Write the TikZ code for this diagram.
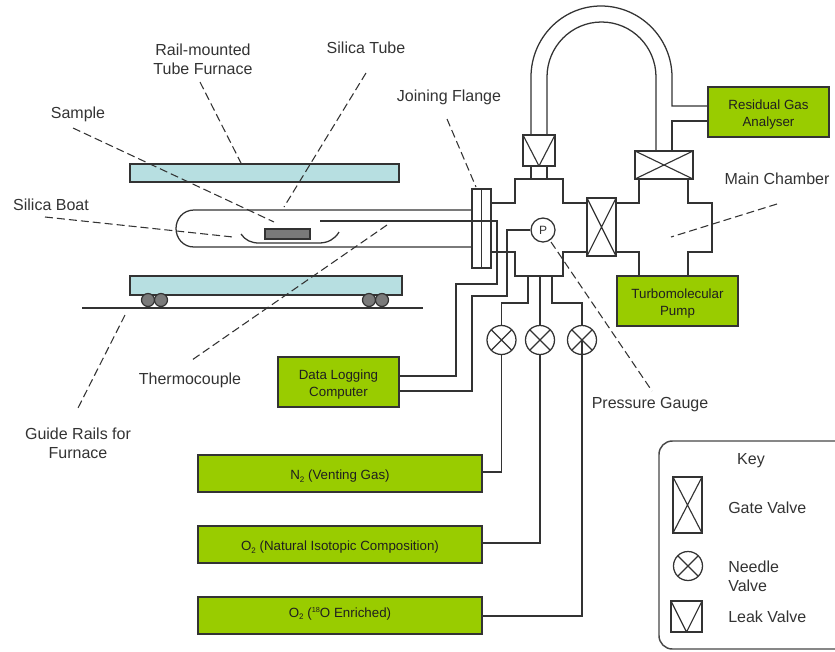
\documentclass[tikz,border=0pt]{standalone}
\usepackage{fontspec}
\setmainfont{Liberation Sans}
\def\u{0.75pt}
\newcommand{\subtwo}{\raisebox{-2pt}{\fontsize{6}{6}\selectfont 2}}
\newcommand{\supeighteen}{\raisebox{3.5pt}{\fontsize{5.5}{6}\selectfont 18}}
\definecolor{boxgreen}{HTML}{99CC00}
\definecolor{furn}{HTML}{B7DFE1}
\definecolor{ln}{HTML}{333333}
\definecolor{lab}{HTML}{333333}
\tikzset{
  pipe/.style={draw=ln,line width=0.95pt,line join=miter},
  leader/.style={draw=ln,line width=0.8pt,dash pattern=on 6pt off 3pt},
  boxtext/.style={inner sep=0pt,align=center,text=black!88,font=\fontsize{10}{12.75}\selectfont},
  greenbox/.style={draw=ln,line width=1.1pt,fill=boxgreen,inner sep=0pt},
  boxt/.style 2 args={label={[boxtext,yshift=#2*\u]center:#1}},
  furnace/.style={draw=ln,line width=1.1pt,fill=furn,inner sep=0pt},
  lbl/.style={text=lab,align=center,inner sep=0pt,font=\fontsize{12}{14.5}\selectfont},
  keylbl/.style={lbl,align=left,anchor=west},
  sized/.style 2 args={minimum width=#1*\u,minimum height=#2*\u},
  gatev/.style={draw=ln,line width=0.95pt,inner sep=0pt,
     path picture={\draw[ln,line width=0.85pt] (path picture bounding box.north west)--(path picture bounding box.south east)
       (path picture bounding box.north east)--(path picture bounding box.south west);}},
  leakv/.style={draw=ln,line width=0.95pt,inner sep=0pt,
     path picture={\draw[ln,line width=0.85pt] (path picture bounding box.north west)--(path picture bounding box.south)--(path picture bounding box.north east);}},
  needlev/.style={circle,draw=ln,line width=0.95pt,inner sep=0pt,minimum size=29*\u,
     path picture={\draw[ln,line width=0.85pt] (path picture bounding box.north west)--(path picture bounding box.south east)
        (path picture bounding box.north east)--(path picture bounding box.south west);}},
  roller/.style={circle,draw=ln,line width=0.9pt,fill=black!52,inner sep=0pt,minimum size=13*\u},
}
\begin{document}
\begin{tikzpicture}[x=0.75pt,y=-0.75pt]
\useasboundingbox (0,0) rectangle (835,651);
\clip (0,0) rectangle (835,651);
% furnace
\node[furnace,sized={269}{18}] (furnTop) at (264.5,173) {};
\node[furnace,sized={272}{19}] (furnBot) at (266,285.5) {};
\node[roller] (r1) at (148,300) {};
\node[roller] (r2) at (161,300) {};
\node[roller] (r3) at (369,300) {};
\node[roller] (r4) at (382,300) {};
\coordinate (railL) at (82,308);
\coordinate (railR) at (423,308);
\draw[pipe,line width=1.2pt] (railL)--(railR);
% flange
\node[draw=ln,line width=0.95pt,inner sep=0pt,sized={19}{79}] (flange) at (481.5,228.5) {};
\draw[pipe] (flange.north)--(flange.south);
% tube
\coordinate (tubeT) at (flange.west|-0,210);
\coordinate (tubeB) at (flange.west|-0,247);
\draw[pipe] (tubeT)--(194,210) .. controls (183,210) and (176,219) .. (176,228.5) .. controls (176,238) and (183,247) .. (194,247)--(tubeB);
% boat and sample
\draw[pipe] (241,234) .. controls (245,240) and (251,243) .. (259,243) -- (319,243) .. controls (328,243) and (335,239) .. (339,232);
\node[draw=ln,line width=0.9pt,fill=black!52,inner sep=0pt,sized={45}{10}] (sample) at (287.5,234) {};
% valves and boxes
\node[gatev,sized={29}{58}] (gvA) at (601.5,227) {};
\node[gatev,sized={58}{28}] (gvB) at (664,165) {};
\node[leakv,sized={32}{31}] (leak) at (539,150.5) {};
\node[greenbox,sized={121}{50},boxt={Residual Gas\\Analyser}{-2.5}] (rga) at (768.5,112) {};
\node[greenbox,sized={121}{50},boxt={Turbomolecular\\Pump}{-2.5}] (pump) at (677.5,301) {};
\node[greenbox,sized={121}{50},boxt={Data Logging\\Computer}{-2.5}] (dlc) at (338.5,382) {};
\node[greenbox,sized={284}{37},boxt={N\subtwo{} (Venting Gas)}{-3}] (n2) at (340,473.5) {};
\node[greenbox,sized={284}{37},boxt={O\subtwo{} (Natural Isotopic Composition)}{-3}] (o2n) at (340,544.5) {};
\node[greenbox,sized={284}{37},boxt={O\subtwo{} (\supeighteen{}O Enriched)}{2}] (o2e) at (340,615.5) {};
\node[needlev] (nv1) at (501.5,340) {};
\node[needlev] (nv2) at (540,340) {};
\node[needlev] (nv3) at (582,340) {};
\node[circle,draw=ln,line width=0.95pt,inner sep=0pt,minimum size=24*\u,text=lab,font=\fontsize{9}{10}\selectfont] (gauge) at (543,230) {P};
% chambers
\draw[pipe] (flange.east|-0,203) -- (515,203) -- (515,179) -- (563,179) -- (563,203) -- (gvA.west|-0,203);
\draw[pipe] (flange.east|-0,252) -- (515,252) -- (515,276) -- (563,276) -- (563,252) -- (gvA.west|-0,252);
\draw[pipe] (gvA.east|-0,203) -- (639,203) -- (639,0|-gvB.south);
\draw[pipe] (gvA.east|-0,252) -- (639,252) -- (639,0|-pump.north);
\draw[pipe] (688,0|-gvB.south) -- (688,203) -- (712,203) -- (712,252) -- (688,252) -- (688,0|-pump.north);
% U-tube
\draw[pipe] (531,0|-leak.north) -- (531,77) .. controls (531,38) and (562,6) .. (601,6) .. controls (640,6) and (672,38) .. (672,77) -- (672,106) -- (rga.west|-0,106);
\draw[pipe] (547,0|-leak.north) -- (547,77) .. controls (547,47) and (571,22) .. (601.5,22) .. controls (632,22) and (656,47) .. (656,77) -- (656,0|-gvB.north);
\draw[pipe] (rga.west|-0,121) -- (672,121) -- (672,0|-gvB.north);
\draw[pipe] (531,0|-leak.south) -- (531,179);
\draw[pipe] (547,0|-leak.south) -- (547,179);
% thermocouple and gauge wires
\draw[pipe,line width=1.2pt] (320,221) -- (497,221) -- (497,284) -- (456,284) -- (456,376) -- (dlc.east|-0,376);
\draw[pipe] (gauge.west) -- (507,230) -- (507,296) -- (472,296) -- (472,391) -- (dlc.east|-0,391);
% needle valve feeds
\draw[pipe] (528,276) -- (528,303) -- (501.5,303) -- (nv1.north);
\draw[pipe] (540,276) -- (nv2.north);
\draw[pipe] (552,276) -- (552,303) -- (582,303) -- (nv3.north);
\draw[pipe] (nv1.south) -- (501.5,472) -- (n2.east|-0,472);
\draw[pipe] (nv2.south) -- (540,543) -- (o2n.east|-0,543);
\draw[pipe] (nv3.center) -- (582,616) -- (o2e.east|-0,616);
% leaders
\draw[leader] (200,82)--(243,167);
\draw[leader] (366,73)--(284,207);
\draw[leader] (73,128)--(274,222);
\draw[leader] (45,217)--(233,237);
\draw[leader] (387,225)--(192,360);
\draw[leader] (125,315)--(77,410);
\draw[leader] (447,119)--(476,187);
\draw[leader] (777,204)--(671,237);
\draw[leader] (551,242)--(652,391);
% labels
\node[lbl] (tRail) at (203,59.5) {Rail-mounted\\Tube Furnace};
\node[lbl] (tSilica) at (366,48) {Silica Tube};
\node[lbl] (tSample) at (78,114) {Sample};
\node[lbl] (tBoat) at (51,205) {Silica Boat};
\node[lbl] (tFlange) at (449,97) {Joining Flange};
\node[lbl] (tMain) at (777,179) {Main Chamber};
\node[lbl] (tThermo) at (190,380) {Thermocouple};
\node[lbl] (tGuide) at (78,443) {Guide Rails for\\Furnace};
\node[lbl] (tGauge) at (650,404.5) {Pressure Gauge};
% key
\draw[draw=ln!90!white,line width=1.1pt,rounded corners=10pt] (850,441) -- (659,441) -- (659,649) -- (850,649);
\node[lbl] (tKey) at (751,461) {Key};
\node[gatev,sized={29}{56}] (kGate) at (687.5,505) {};
\node[needlev] (kNeedle) at (688,566) {};
\node[leakv,sized={31}{31}] (kLeak) at (686.5,616.5) {};
\node[keylbl] (tkG) at (728,508) {Gate Valve};
\node[keylbl] (tkN) at (728,576) {Needle\\Valve};
\node[keylbl] (tkL) at (728,617) {Leak Valve};
\end{tikzpicture}
\end{document}
